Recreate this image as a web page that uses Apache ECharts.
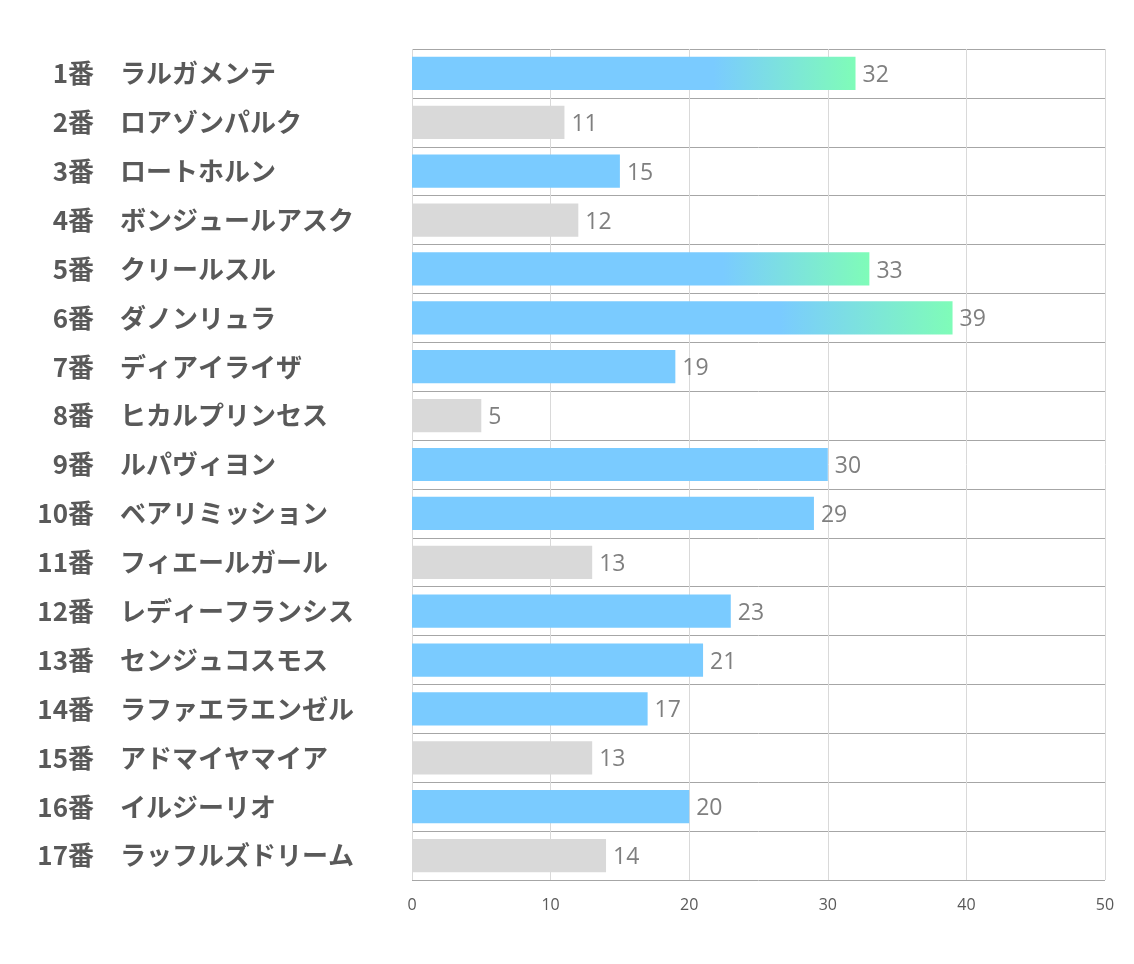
<!DOCTYPE html>
<html>
<head>
<meta charset="utf-8">
<script src="https://cdn.jsdelivr.net/npm/echarts@6/dist/echarts.min.js"></script>
<style>
  html, body { margin: 0; padding: 0; background: #fff; }
  #chart { width: 1134px; height: 964px; }
</style>
</head>
<body>
<div id="chart"></div>
<script>
// horse numbers and names (top to bottom)
var horseNo = ["1番", "2番", "3番", "4番", "5番", "6番", "7番", "8番", "9番", "10番", "11番", "12番", "13番", "14番", "15番", "16番", "17番"];
var horseNames = ["ラルガメンテ", "ロアゾンパルク", "ロートホルン", "ボンジュールアスク", "クリールスル",
  "ダノンリュラ", "ディアイライザ", "ヒカルプリンセス", "ルパヴィヨン", "ベアリミッション",
  "フィエールガール", "レディーフランシス", "センジュコスモス", "ラファエラエンゼル",
  "アドマイヤマイア", "イルジーリオ", "ラッフルズドリーム"];
var scores = [32, 11, 15, 12, 33, 39, 19, 5, 30, 29, 13, 23, 21, 17, 13, 20, 14];
// bar kind: "top" = gradient, "blue" = blue, "gray" = gray
var barKind = ["top", "gray", "blue", "gray", "top", "top", "blue", "gray", "blue", "blue",
  "gray", "blue", "blue", "blue", "gray", "blue", "gray"];
var xTicks = [0, 10, 20, 30, 40, 50];

var chart = echarts.init(document.getElementById("chart"));

var barData = scores.map(function (v, i) {
  var color;
  if (barKind[i] === "gray") {
    color = "#D9D9D9";
  } else if (barKind[i] === "top") {
    color = new echarts.graphic.LinearGradient(0, 0, 1, 0, [
      { offset: 0, color: "#7ACBFF" },
      { offset: 0.68, color: "#7ACBFF" },
      { offset: 1, color: "#7FFCB8" }
    ]);
  } else {
    color = "#7ACBFF";
  }
  return { value: v, itemStyle: { color: color } };
});

var labelFont = {
  fontSize: 26,
  fontWeight: "bold",
  color: "#595959",
  fontFamily: "Noto Sans CJK JP"
};

chart.setOption({
  animation: false,
  grid: { left: 412, right: 29, top: 49, bottom: 84, containLabel: false },
  xAxis: {
    type: "value",
    min: xTicks[0],
    max: xTicks[xTicks.length - 1],
    interval: 10,
    axisLine: { show: false },
    axisTick: { show: false },
    axisLabel: { color: "#595959", fontSize: 16, margin: 17, fontFamily: "Open Sans" },
    splitLine: { show: true, lineStyle: { color: "#D9D9D9", width: 1 } }
  },
  yAxis: [
    {
      // numbers, right aligned
      type: "category",
      inverse: true,
      data: horseNo,
      axisLine: { show: false },
      axisTick: { show: false },
      splitLine: { show: true, lineStyle: { color: "#A6A6A6", width: 1 } },
      axisLabel: Object.assign({ align: "right", margin: 318 }, labelFont)
    },
    {
      // names, left aligned
      type: "category",
      position: "left",
      inverse: true,
      data: horseNames,
      axisLine: { show: false },
      axisTick: { show: false },
      splitLine: { show: false },
      axisLabel: Object.assign({ align: "left", margin: 292 }, labelFont)
    }
  ],
  series: [{
    type: "bar",
    yAxisIndex: 0,
    data: barData,
    barCategoryGap: "32%",
    label: {
      show: true,
      position: "right",
      distance: 7,
      offset: [0, 2],
      color: "#7F7F7F",
      fontSize: 23,
      fontFamily: "Open Sans"
    }
  }]
});
</script>
</body>
</html>
